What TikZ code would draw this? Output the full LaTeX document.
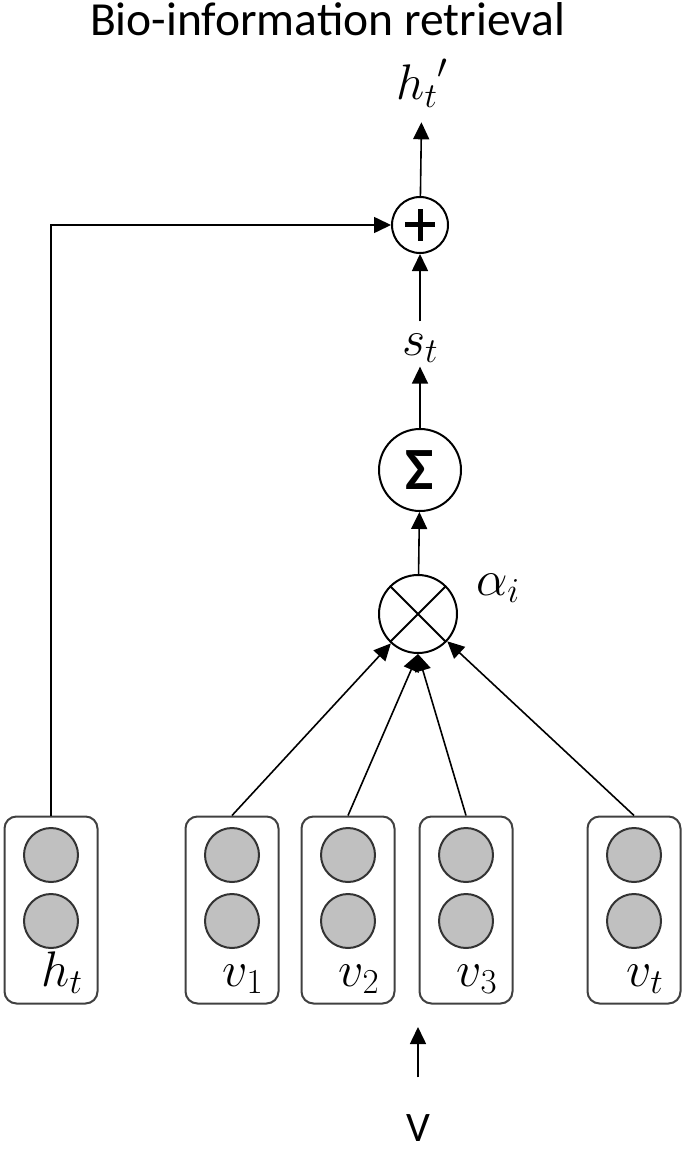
\RequirePackage{fix-cm}
\documentclass[tikz,border=0pt]{standalone}
\usepackage{fontspec}
\newfontfamily\carlito{Carlito}
\usepackage{tikz}
\usetikzlibrary{arrows.meta,positioning}
\definecolor{unitgray}{RGB}{192,192,192}
\definecolor{edgegray}{RGB}{64,64,64}

\begin{document}
\begin{tikzpicture}[x=1pt, y=-1pt, line width=1.6pt,
    every node/.style={font=\fontsize{50}{56}\selectfont},
    arr/.style={-{Triangle[length=17pt,width=16pt]}},
    opnode/.style={draw, circle, line width=2pt, inner sep=0pt},
    unitbox/.style={draw=edgegray, rounded corners=12pt, line width=2pt, minimum width=93pt, minimum height=187pt},
    unit/.style={draw=edgegray!80!black, fill=unitgray, circle, line width=2pt, minimum size=54pt, inner sep=0pt}]
    \useasboundingbox (0,0) rectangle (685,1150);

    \node[anchor=base, inner sep=0pt, font=\carlito\fontsize{47.5}{56}\selectfont] (title) at (327.5,36) {Bio-information retrieval};

    \node[opnode, minimum size=56pt, path picture={\draw[line width=5pt] (path picture bounding box.center) +(-15pt,0) -- +(15pt,0) (path picture bounding box.center) +(0,-16pt) -- +(0,16pt);}] (plus) at (420,225) {};
    \node[opnode, minimum size=82pt, font=\carlito\bfseries\fontsize{60}{60}\selectfont] (sum) at (420,470) {Σ};
    \node[opnode, minimum size=78pt, path picture={\draw (path picture bounding box.north west) -- (path picture bounding box.south east) (path picture bounding box.north east) -- (path picture bounding box.south west);}] (mul) at (418,614) {};

    \node[anchor=base, inner sep=0pt] (htp) at (422,100) {${h_t}'$};
    \node[anchor=base] (st) at (420,355) {$s_t$};
    \node[anchor=base] (alpha) at (498,595) {$\alpha_i$};
    \node[anchor=base, inner sep=0pt, font=\carlito\fontsize{42}{48}\selectfont] (vin) at (418,1141) {V};
    \coordinate (vtip) at (418,1027);

    \foreach \name/\x/\lbl in {ht/51/h_t, v1/232/v_1, v2/348/v_2, v3/466/v_3, vt/634/v_t} {
        \node[unitbox] (\name) at (\x,910) {};
        \node[unit] (\name-top) at (\x,855) {};
        \node[unit] (\name-bot) at (\x,921) {};
        \node[anchor=base] (\name-lbl) at (\x+11,986) {$\lbl$};
    }

    \draw[arr] (ht.north) |- (plus);
    \draw[arr] (v1.north) -- (mul);
    \draw[arr] (v2.north) -- (mul.south);
    \draw[arr] (v3.north) -- (mul.south);
    \draw[arr] (vt.north) -- (mul);
    \draw[arr] (mul) -- (sum);
    \draw[arr] (sum) -- (st);
    \draw[arr, shorten <=8pt] (st) -- (plus);
    \draw[arr, shorten >=14pt] (plus) -- (htp);
    \draw[arr, shorten <=36pt] (vin) -- (vtip);
\end{tikzpicture}
\end{document}
